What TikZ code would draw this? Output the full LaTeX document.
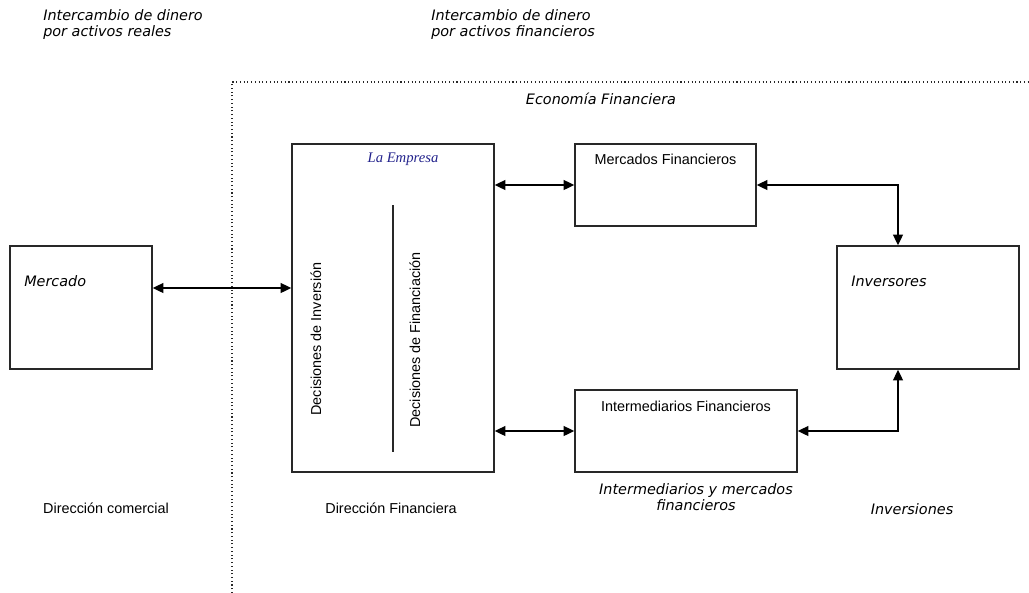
\documentclass[tikz,border=0pt]{standalone}
\usepackage{fontspec}
\setmainfont{Liberation Sans}
\newfontfamily\verd{DejaVu Sans}
\newfontfamily\tms{Liberation Serif}
\usetikzlibrary{arrows.meta}
\definecolor{lineg}{RGB}{40,40,40}
\definecolor{navyt}{RGB}{35,35,140}
\tikzset{
  boxs/.style={draw=lineg, line width=1.2pt, inner sep=0pt},
  arr/.style={{Triangle[length=8pt,width=7.5pt]}-{Triangle[length=8pt,width=7.5pt]}, line width=1.1pt, black},
  vlab/.style={font=\verd\itshape\fontsize{10.8}{12}\selectfont, inner sep=0pt},
  alab/.style={font=\fontsize{10.8}{12}\selectfont, inner sep=0pt},
}
\begin{document}
\begin{tikzpicture}[x=0.75pt,y=-0.75pt]
\useasboundingbox (0,0) rectangle (1029,593);
% dotted frame
\draw[dotted, line width=0.8pt, lineg] (232,593) -- (232,82) -- (1029,82);
% boxes
\node[boxs, minimum width=106.5pt, minimum height=92.25pt] (mercado) at (81,307.5) {};
\node[boxs, minimum width=151.5pt, minimum height=246pt] (empresa) at (393,308) {};
\node[boxs, minimum width=135.75pt, minimum height=61.5pt] (mercfin) at (665.5,185) {};
\node[boxs, minimum width=166.5pt, minimum height=61.5pt] (intfin) at (686,431) {};
\node[boxs, minimum width=136.5pt, minimum height=92.25pt] (inversores) at (928,307.5) {};
% texts in boxes
\node[vlab, anchor=west] (tmercado) at (24,281) {Mercado};
\node[vlab, anchor=west] (tinversores) at (851,281) {Inversores};
\node[inner sep=0pt, text=navyt, font=\tms\itshape\fontsize{11}{12}\selectfont] (tempresa) at (403,159) {La Empresa};
\node[alab] (tmercfin) at (665.5,159) {Mercados Financieros};
\node[alab] (tintfin) at (686,406) {Intermediarios Financieros};
\node[alab, rotate=90] (tinv) at (316,339) {Decisiones de Inversión};
\node[alab, rotate=90] (tfin) at (415,340) {Decisiones de Financiación};
\coordinate (sepTop) at (393,205);
\coordinate (sepBot) at (393,452);
\draw[line width=1.2pt, lineg] (sepTop) -- (sepBot);
% connectors
\coordinate (lvl) at (0,288);
\draw[arr] (mercado.east |- lvl) -- (empresa.west |- lvl);
\draw[arr] (empresa.east |- mercfin.west) -- (mercfin.west);
\draw[arr] (empresa.east |- intfin.west) -- (intfin.west);
\draw[arr] (mercfin.east) -| ([xshift=-22.5pt]inversores.north);
\draw[arr] (intfin.east) -| ([xshift=-22.5pt]inversores.south);
% outer labels
\node[vlab, anchor=west, align=left] (l1) at (43,24.5) {Intercambio de dinero\\por activos reales};
\node[vlab, anchor=west, align=left] (l2) at (431,24.5) {Intercambio de dinero\\por activos financieros};
\node[vlab] (econ) at (601,99) {Economía Financiera};
\node[alab] (dcom) at (106,508) {Dirección comercial};
\node[alab] (dfin) at (391,508) {Dirección Financiera};
\node[vlab, align=center] (imf) at (696,497.5) {Intermediarios y mercados\\financieros};
\node[vlab] (inv) at (912,509) {Inversiones};
\end{tikzpicture}
\end{document}
